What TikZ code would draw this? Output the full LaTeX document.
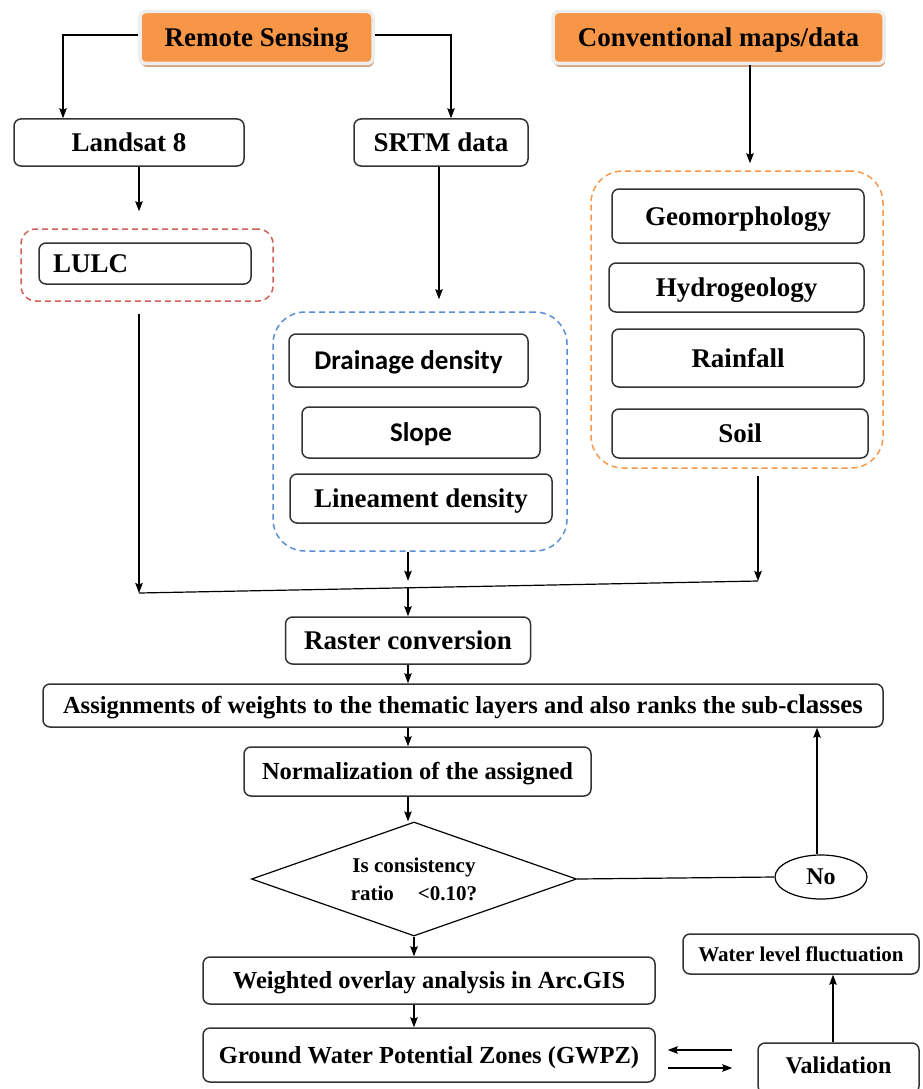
\documentclass[tikz,border=0pt]{standalone}
\usepackage{fontspec}
\setmainfont{Liberation Serif}
\newfontfamily\calibrifont{Carlito}
\usetikzlibrary{positioning,arrows.meta,shapes.geometric,shadows}
\definecolor{headorange}{HTML}{F79646}
\definecolor{headrim}{HTML}{EDEDED}
\definecolor{headshade}{HTML}{D4A583}
\definecolor{lulcred}{HTML}{D0605A}
\definecolor{srtmblue}{HTML}{5B8ED6}
\definecolor{mapsorange}{HTML}{F7974A}
\newcommand{\txtsize}[2]{\fontsize{#1}{#2}\selectfont}
\tikzset{
>={Stealth[length=10pt,width=7.5pt,inset=1.5pt]},
box/.style={draw=black!80,rectangle,rounded corners=7pt,line width=1.5pt,fill=white,inner sep=2pt,
  font=\bfseries\txtsize{27}{30},text height=21pt,text depth=3pt},
flowbox/.style={box,font=\bfseries\txtsize{24.5}{28},text height=19pt,text depth=2.8pt},
head/.style={box,draw=headrim,line width=3.5pt,fill=headorange,rounded corners=6pt,
  drop shadow={shadow xshift=1pt,shadow yshift=-3.5pt,fill=headshade,opacity=1}},
group/.style={rectangle,draw,dash pattern=on 6pt off 4pt,line width=1.5pt}
}

\begin{document}
\begin{tikzpicture}[x=1pt,y=-1pt,line width=1.2pt]
\useasboundingbox (0,0) rectangle (922,1089);

% sources
\node[head,minimum width=233pt,minimum height=52pt] (rs) at (256.5,37.5) {Remote Sensing};
\node[head,minimum width=331pt,minimum height=52pt] (cm) at (718.5,37.5) {Conventional maps/data};

\node[box,minimum width=230pt,minimum height=47pt] (landsat) at (129,142.5) {Landsat 8};
\node[box,minimum width=174pt,minimum height=47pt] (srtm)    at (441,142.5) {SRTM data};

% thematic layers
\node[group,draw=lulcred,rounded corners=15pt,minimum width=252pt,minimum height=72pt] (lulcgroup) at (147,265) {};
\node[box,minimum width=212pt,minimum height=41pt,text width=184pt,align=left,inner xsep=14pt] (lulc) at (145,263.5) {LULC};

\node[group,draw=srtmblue,rounded corners=32pt,minimum width=294pt,minimum height=239pt] (srtmgroup) at (420,431.5) {};
\node[box,font=\calibrifont\bfseries\txtsize{27}{30},minimum width=239pt,minimum height=53pt] (drainage)  at (408.5,360.5) {Drainage density};
\node[box,font=\calibrifont\bfseries\txtsize{27}{30},minimum width=238pt,minimum height=51pt] (slope)     at (421,432.5)   {Slope};
\node[box,minimum width=262pt,minimum height=49pt]                                          (lineament) at (421,498.5)   {Lineament density};

\node[group,draw=mapsorange,rounded corners=32pt,minimum width=292pt,minimum height=297pt] (mapsgroup) at (737,319.5) {};
\node[box,minimum width=252pt,minimum height=54pt] (geo)   at (738,216)     {Geomorphology};
\node[box,minimum width=255pt,minimum height=49pt] (hydro) at (736.5,287.5) {Hydrogeology};
\node[box,minimum width=252pt,minimum height=58pt] (rain)  at (738,358)     {Rainfall};
\node[box,minimum width=256pt,minimum height=49pt] (soil)  at (740,433.5)   {Soil};

% processing
\node[box,minimum width=245pt,minimum height=47pt] (raster) at (408,640.5) {Raster conversion};
\node[flowbox,minimum width=840pt,minimum height=43pt] (assign) at (463,705.5)
  {Assignments of weights to the thematic layers and also ranks the sub-{\txtsize{27}{30}classes}};
\node[flowbox,minimum width=347pt,minimum height=49pt] (norm) at (417.5,771.5) {Normalization of the assigned};
\node[diamond,draw,aspect=2.85,minimum width=325pt,minimum height=114pt,inner sep=0pt,align=center,
  font=\bfseries\txtsize{21}{28}] (check) at (414,879) {Is consistency\\ratio\hspace{24pt}<0.10?};
\node[ellipse,draw,minimum width=92pt,minimum height=44pt,inner sep=0pt,font=\bfseries\txtsize{24}{28}] (no) at (821,877) {No};
\node[flowbox,minimum width=452pt,minimum height=47pt] (weighted) at (429,980.5) {Weighted overlay analysis in Arc.GIS};
\node[flowbox,minimum width=452pt,minimum height=54pt] (gwpz)     at (429,1055)  {Ground Water Potential Zones (GWPZ)};
\node[box,font=\bfseries\txtsize{21}{25},text height=17pt,minimum width=236pt,minimum height=40pt] (water) at (801,954) {Water level fluctuation};
\node[flowbox,font=\bfseries\txtsize{24}{28},text height=13pt,minimum width=161pt,minimum height=50pt] (valid) at (838.5,1068) {Validation};

% junction
\coordinate (j1) at (139,593);
\coordinate (j3) at (758,581);
\coordinate (jm) at (408,587.8);

\draw[->] ([yshift=2.5pt]rs.west) -| ([xshift=-66pt]landsat.north);
\draw[->] ([yshift=2.5pt]rs.east) -| ([xshift=10pt]srtm.north);
\draw[->,shorten >=7pt] ([xshift=31.5pt]cm.south) -- ([xshift=13pt]mapsgroup.north);
\draw[->,shorten >=17pt] ([xshift=10pt]landsat.south) -- ([xshift=-8pt]lulcgroup.north);
\draw[->,shorten >=12pt] ([xshift=-2pt]srtm.south) -- ([xshift=19pt]srtmgroup.north);

\draw[->,shorten <=12pt] ([xshift=-8pt]lulcgroup.south) -- (j1);
\draw[->,shorten <=7pt] ([xshift=21pt]mapsgroup.south) -- (j3);
\draw[->] ([xshift=-12pt]srtmgroup.south) -- ([yshift=7pt]jm);
\draw (j1) -- (j3);
\draw[->] (jm) -- (raster.north -| jm);

\draw[->] (raster) -- (raster |- assign.north);
\draw[->] (raster |- assign.south) -- (raster |- norm.north);
\draw[->] (raster |- norm.south) -- (raster |- check.north);
\draw (check.east) -- (no.west);
\draw[->] ([xshift=-4pt]no.north) -- ([xshift=-4pt]no.north |- assign.south);
\draw[->] (check.south) -- (check.south |- weighted.north);
\draw[->] (check.south |- weighted.south) -- (check.south |- gwpz.north);

\draw[->,shorten <=25pt,shorten >=12pt] ([yshift=18pt]valid.west) -- ([yshift=18pt]valid.west -| gwpz.east);
\draw[->,shorten <=12pt,shorten >=25pt] (valid.west -| gwpz.east) -- (valid.west);
\draw[->] ([xshift=-5.5pt]valid.north) -- ([xshift=-5.5pt]valid.north |- water.south);
\end{tikzpicture}
\end{document}
